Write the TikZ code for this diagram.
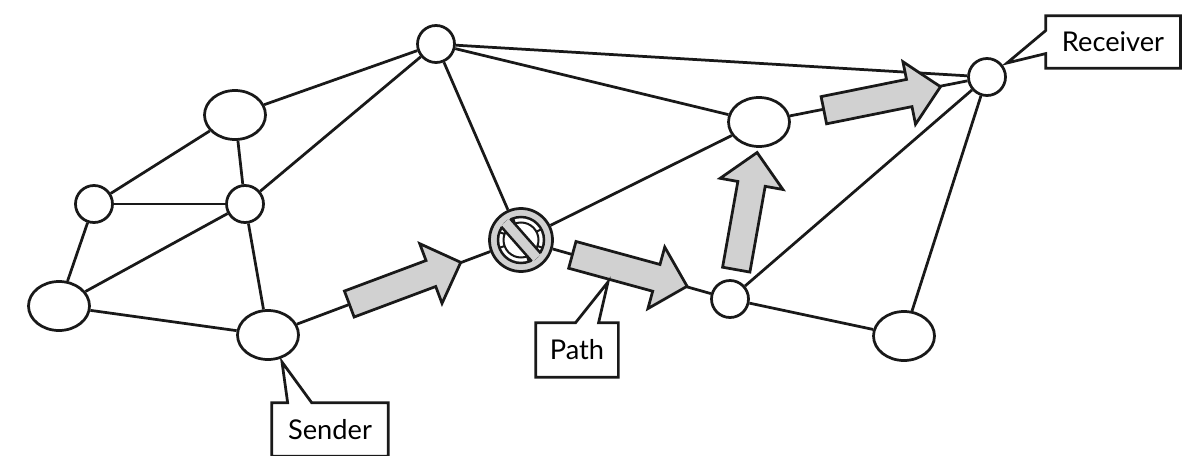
\documentclass[tikz,border=0pt]{standalone}
\usepackage{fontspec}
\setmainfont{Lato}
\usetikzlibrary{shapes.geometric}
\usetikzlibrary{shapes.arrows}

\begin{document}
\begin{tikzpicture}[ x = 0.02cm
                   , y = -0.02cm
                   , line width = 0.055cm
                   , every node/.style = { draw = black!90
                                         , fill = white
                                         , inner sep = 0pt
                                         }
                   ]

  %%
  %% Node types
  %%
  \tikzset{ router/.style={circle, minimum size=0.74cm}
          , hub/.style={ellipse, minimum width=1.22cm, minimum height=0.98cm}
          , flow/.style={ single arrow, fill=black!18, anchor=tail, inner xsep=0pt, inner ysep=0.25cm
                        , minimum height=2.38cm, minimum width=1.22cm
                        , single arrow head extend=0.36cm
                        }
          , tag/.style={ rectangle, draw=none, font=\fontsize{15.5}{18}\selectfont}
          }

  %%
  %% Arrow types
  %%
  \tikzset{ link/.style={draw=black!90}
          , tagline/.style={draw=black!90, line join=miter}
          }

  \useasboundingbox (0,0) rectangle (1200,456);

  %%
  %% Nodes
  %%
  \node (top)    [router] at (436,44)  {};
  \node (upper)  [hub]    at (235,115) {};
  \node (west)   [router] at (94,204)  {};
  \node (centre) [router] at (245,204) {};
  \node (left)   [hub]    at (59,306)  {};
  \node (sender) [hub]    at (268,335) {};
  \node (block)  [circle, fill=black!18, minimum size=1.26cm] at (521,240) {};
  \node (mid)    [hub]    at (759,122) {};
  \node (recv)   [router] at (987,77)  {};
  \node (low)    [router] at (730,299) {};
  \node (right)  [hub]    at (904,336) {};

  %%
  %% Relationships between nodes
  %%
  \path[link] (top) edge (upper)
              (top) edge (centre)
              (top) edge (block)
              (top) edge (mid)
              (top) edge (recv);
  \path[link] (upper) edge (west)
              (upper) edge (centre);
  \path[link] (west) edge (centre)
              (west) edge (left);
  \path[link] (centre) edge (left)
              (centre) edge (sender);
  \path[link] (left) edge (sender);
  \path[link] (sender) edge (block);
  \path[link] (block) edge (mid)
              (block) edge (low);
  \path[link] (mid) edge (recv);
  \path[link] (low) edge (recv)
              (low) edge (right);
  \path[link] (right) edge (recv);

  %%% Blocked hop
  \begin{scope}[shift={(block)}]
    \draw[black!90, fill=white, line width=0.05cm] (0,0) circle [radius=23];
    \draw[black!90, line width=0.04cm] (0,0) circle [radius=17.5];
    \foreach \a in {20,-28,70,160,200,250}
      \draw[black!90, line width=0.04cm] (\a:17.5) -- (\a:23);
    \begin{scope}[rotate=-48.6]
      \fill[black!18] (-24,-6) rectangle (24,6);
      \draw[black!90, line width=0.05cm] (-23,-6) -- (23,-6);
      \draw[black!90, line width=0.05cm] (-23,6) -- (23,6);
    \end{scope}
  \end{scope}

  %%% Path arrows
  \node (hopa) [flow, rotate=20.5]  at (348,304.5)   {};
  \node (hopb) [flow, rotate=-15.3] at (571,254.5)   {};
  \node (hopc) [flow, rotate=79.9]  at (736,271)     {};
  \node (hopd) [flow, rotate=11.4]  at (822.5,110.5) {};

  %%% Labels
  \coordinate (sendertip) at (282,362);
  \coordinate (pathtip)   at (608,282);
  \coordinate (recvtip)   at (1007,63);

  \node (sendertag) [tag, minimum width=2.28cm, minimum height=1.02cm] at (330,429.5) {Sender};
  \node (pathtag)   [tag, minimum width=1.6cm, minimum height=1.04cm] at (577,350) {Path};
  \node (recvtag)   [tag, minimum width=2.64cm, minimum height=1cm] at (1113,42) {Receiver};

  \draw[tagline] (sendertag.north west) -- ([xshift=0.32cm]sendertag.north west) -- (sendertip)
    -- ([xshift=0.8cm]sendertag.north west) -- (sendertag.north east) -- (sendertag.south east)
    -- (sendertag.south west) -- cycle;
  \draw[tagline] (pathtag.north west) -- ([xshift=0.8cm]pathtag.north west) -- (pathtip)
    -- ([xshift=1.26cm]pathtag.north west) -- (pathtag.north east) -- (pathtag.south east)
    -- (pathtag.south west) -- cycle;
  \draw[tagline] (recvtag.north west) -- ([yshift=-0.3cm]recvtag.north west) -- (recvtip)
    -- ([yshift=-0.76cm]recvtag.north west) -- (recvtag.south west) -- (recvtag.south east)
    -- (recvtag.north east) -- cycle;

\end{tikzpicture}
\end{document}
